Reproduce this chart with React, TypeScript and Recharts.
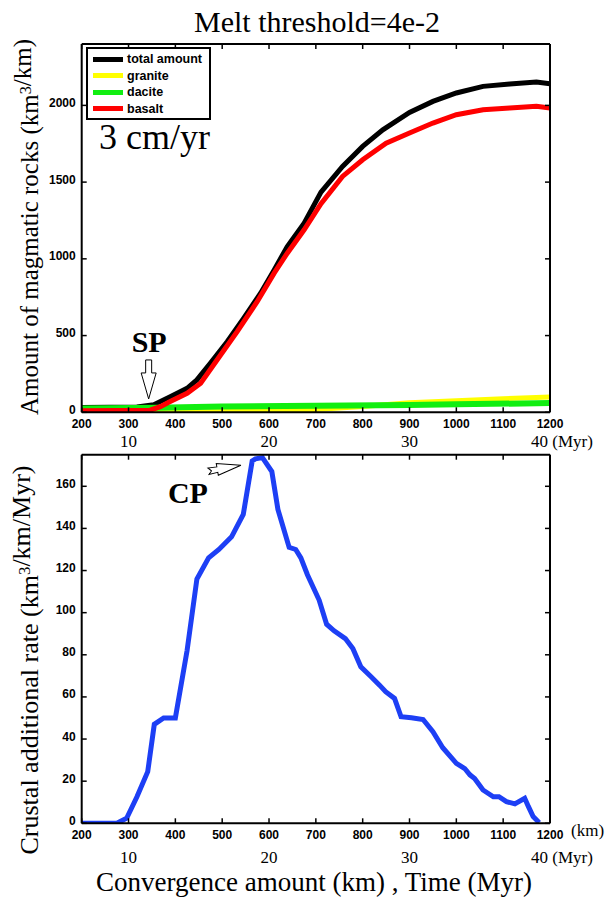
import { LineChart, Line, XAxis, YAxis, Legend, ReferenceDot } from "recharts";

const SANS = "'Liberation Sans', Arial, sans-serif";
const SERIF = "'Liberation Serif', 'Times New Roman', serif";

// convergence (km) ticks shared by both panels
const kmTicks = [200, 300, 400, 500, 600, 700, 800, 900, 1000, 1100, 1200];
const myrTicks = [10, 20, 30, 40];
const amountTicks = [0, 500, 1000, 1500, 2000];
const rateTicks = [0, 20, 40, 60, 80, 100, 120, 140, 160];

// 3 cm/yr: 30 km of convergence per Myr
const KM_PER_MYR = 30;

// upper panel: cumulative magmatic rocks (km3/km)
const seriesNames = ["total amount", "granite", "dacite", "basalt"];

const totalKm = [200, 318, 354, 389, 425, 446, 475, 511, 546, 582, 611, 639, 675, 711, 757, 800, 843, 900, 950, 1000, 1057, 1114, 1171, 1200];
const totalAmt = [32, 35, 50, 102, 156, 211, 320, 461, 613, 776, 928, 1080, 1233, 1435, 1602, 1733, 1841, 1954, 2026, 2081, 2124, 2139, 2152, 2141];

const graniteKm = [200, 450, 600, 700, 800, 900, 1000, 1100, 1200];
const graniteAmt = [2, 3, 8, 18, 38, 62, 76, 88, 100];

const daciteKm = [200, 360, 500, 700, 900, 1000, 1200];
const daciteAmt = [25, 30, 38, 42, 48, 52, 60];

const basaltKm = [200, 346, 368, 389, 425, 454, 489, 532, 575, 611, 639, 675, 711, 757, 800, 850, 900, 950, 1000, 1057, 1114, 1171, 1200];
const basaltAmt = [10, 14, 37, 70, 124, 189, 341, 526, 722, 907, 1037, 1189, 1360, 1537, 1646, 1754, 1820, 1885, 1939, 1972, 1983, 1994, 1983];

// lower panel: crustal addition rate (km3/km/Myr)
const rateKm = [200, 275, 296, 318, 341, 355, 375, 400, 425, 446, 471, 493, 520, 545, 564, 571, 586, 606, 619, 643, 657, 668, 682, 707, 723, 739, 763, 779, 796, 818, 836, 849, 868, 882, 904, 929, 950, 971, 1000, 1018, 1029, 1039, 1057, 1079, 1091, 1107, 1125, 1146, 1154, 1164, 1177];
const rateVal = [0, 0, 2.4, 12.6, 24.5, 47, 50, 50, 82, 116, 126, 130, 136, 146.6, 172, 173, 173.6, 167, 149, 131, 130, 126, 118, 106, 94.5, 91.4, 87.7, 83, 74.3, 69.6, 65.6, 62.5, 59.3, 50.6, 50.1, 49.3, 43.5, 35.9, 28.5, 26, 23, 21.3, 15.8, 12.6, 12.6, 10.3, 9.2, 11.9, 7.9, 3.2, 0.3];

const toRows = (xs: number[], ys: number[]) => xs.map((km, i) => ({ km, myr: km / KM_PER_MYR, v: ys[i] }));

const frame = { stroke: "#000", strokeWidth: 2 };

function KmTick(props: any) {
  const { x, y, payload, dy, unit } = props;
  return (
    <g>
      <line x1={x} y1={y} x2={x} y2={y - 5} stroke="#000" strokeWidth={1.5} />
      <text x={x} y={y + dy} textAnchor="middle" dominantBaseline="central" fontFamily={SANS} fontWeight="bold" fontSize={12} fill="#000">
        {payload.value}
      </text>
      {unit && payload.value === 1200 && (
        <text x={x + 21} y={y + dy - 4} dominantBaseline="central" fontFamily={SERIF} fontSize={17} fill="#000">(km)</text>
      )}
    </g>
  );
}

function MyrTick(props: any) {
  const { x, y, payload, dy } = props;
  const last = payload.value === 40;
  return (
    <text x={last ? x - 19 : x} y={y + dy} textAnchor={last ? "start" : "middle"} dominantBaseline="central" fontFamily={SERIF} fontSize={17} fill="#000">
      {last ? "40 (Myr)" : payload.value}
    </text>
  );
}

function TopTick(props: any) {
  const { x, y } = props;
  return <line x1={x} y1={y} x2={x} y2={y + 5} stroke="#000" strokeWidth={1.5} />;
}

function LeftTick(props: any) {
  const { x, y, payload } = props;
  return (
    <g>
      <line x1={x} y1={y} x2={x + 5} y2={y} stroke="#000" strokeWidth={1.5} />
      <text x={x - 6} y={y - 2.5} textAnchor="end" dominantBaseline="central" fontFamily={SANS} fontWeight="bold" fontSize={12} fill="#000">
        {payload.value}
      </text>
    </g>
  );
}

function RightTick(props: any) {
  const { x, y } = props;
  return <line x1={x} y1={y} x2={x - 5} y2={y} stroke="#000" strokeWidth={1.5} />;
}

function LegendBox({ payload }: any) {
  const items = seriesNames.map((n) => (payload || []).find((p: any) => p.value === n)).filter(Boolean);
  return (
    <div style={{ width: 116, height: 67, border: "2px solid #000", background: "#fff", padding: "2px 0 0 5px", boxSizing: "content-box" }}>
      {items.map((p: any) => (
        <div key={p.value} style={{ display: "flex", alignItems: "center", height: 16.5 }}>
          <div style={{ width: 30, height: 5, background: p.color, marginRight: 4 }} />
          <span style={{ fontFamily: SANS, fontWeight: "bold", fontSize: 12.5, color: "#000" }}>{p.value}</span>
        </div>
      ))}
    </div>
  );
}

// hollow arrow pointing down, tip at (cx, cy)
function SpMark({ cx, cy }: any) {
  const pts = [[0, 0], [-7.5, -26], [-3, -26], [-3, -39], [3, -39], [3, -26], [7.5, -26]];
  return (
    <g>
      <polygon points={pts.map(([a, b]) => `${cx + a},${cy + b}`).join(" ")} fill="#fff" stroke="#000" strokeWidth={1} />
      <text x={cx + 0.5} y={cy - 47} textAnchor="middle" fontFamily={SERIF} fontWeight="bold" fontSize={30} fill="#000">SP</text>
    </g>
  );
}

// hollow arrow pointing right (slightly upward), tip at (cx, cy)
function CpMark({ cx, cy }: any) {
  const pts = [[0, 0], [-24, -6], [-24, -2.5], [-33, -3], [-30, 0.5], [-33, 3.5], [-24, 3], [-24, 6]];
  return (
    <g>
      <polygon transform={`rotate(-10 ${cx} ${cy})`} points={pts.map(([a, b]) => `${cx + a},${cy + b}`).join(" ")} fill="#fff" stroke="#000" strokeWidth={1} />
      <text x={cx - 53} y={cy + 38} textAnchor="middle" fontFamily={SERIF} fontWeight="bold" fontSize={30} fill="#000">CP</text>
    </g>
  );
}

function Sup({ children }: any) {
  return (
    <>
      <tspan dy="-0.45em" fontSize="0.65em">{children}</tspan>
      <tspan dy="0.45em"></tspan>
    </>
  );
}

const line = { dot: false, activeDot: false, isAnimationActive: false } as const;
// invisible copies that give the time axis and the mirrored frame axes a series to scale from
const ghost = { ...line, stroke: "none", legendType: "none" as const, dataKey: "v" };

function Axes({ yId, yDomain, yTicks, kmDy, myrDy, unit }: any) {
  return [
    <XAxis key="km" xAxisId="km" dataKey="km" type="number" domain={[200, 1200]} ticks={kmTicks} interval={0} height={20} allowDataOverflow
      axisLine={frame} tickLine={false} tickSize={0} tickMargin={0} tick={(p: any) => <KmTick {...p} dy={kmDy} unit={unit} />} />,
    <XAxis key="myr" xAxisId="myr" dataKey="myr" type="number" domain={[200 / KM_PER_MYR, 1200 / KM_PER_MYR]} ticks={myrTicks} interval={0} height={30} allowDataOverflow
      axisLine={false} tickLine={false} tickSize={0} tickMargin={0} tick={(p: any) => <MyrTick {...p} dy={myrDy} />} />,
    <XAxis key="top" xAxisId="top" dataKey="km" orientation="top" type="number" domain={[200, 1200]} ticks={kmTicks} interval={0} height={1} allowDataOverflow
      axisLine={frame} tickLine={false} tickSize={0} tickMargin={0} tick={TopTick} />,
    <YAxis key="left" yAxisId={yId} type="number" domain={yDomain} ticks={yTicks} interval={0} width={81.7} allowDataOverflow
      axisLine={frame} tickLine={false} tickSize={0} tickMargin={0} tick={LeftTick} />,
    <YAxis key="right" yAxisId="right" orientation="right" type="number" domain={yDomain} ticks={yTicks} interval={0} width={1} allowDataOverflow
      axisLine={frame} tickLine={false} tickSize={0} tickMargin={0} tick={RightTick} />,
  ];
}

export default function App() {
  const totalRows = toRows(totalKm, totalAmt);
  const rateRows = toRows(rateKm, rateVal);
  return (
    <div style={{ position: "absolute", left: 0, top: 0, width: 607, height: 899, background: "#fff" }}>
      <div style={{ position: "absolute", left: 0, top: 0 }}>
        <LineChart width={607} height={470} margin={{ top: 43, right: 56, left: 0, bottom: 7.7 }}>
          {Axes({ yId: "amt", yDomain: [0, 2400], yTicks: amountTicks, kmDy: 12, myrDy: 9 })}
          <Legend content={LegendBox} layout="horizontal" verticalAlign="middle" align="center"
            wrapperStyle={{ position: "absolute", left: 86, top: 47, width: "auto", height: "auto" }} />
          <Line xAxisId="myr" yAxisId="amt" data={totalRows} {...ghost} />
          <Line xAxisId="top" yAxisId="right" data={totalRows} {...ghost} />
          <Line xAxisId="km" yAxisId="amt" name="total amount" data={totalRows} dataKey="v" stroke="#000" strokeWidth={5} {...line} />
          <Line xAxisId="km" yAxisId="amt" name="granite" data={toRows(graniteKm, graniteAmt)} dataKey="v" stroke="#ffff00" strokeWidth={5} {...line} />
          <Line xAxisId="km" yAxisId="amt" name="dacite" data={toRows(daciteKm, daciteAmt)} dataKey="v" stroke="#11ee11" strokeWidth={6} {...line} />
          <Line xAxisId="km" yAxisId="amt" name="basalt" data={toRows(basaltKm, basaltAmt)} dataKey="v" stroke="#ff0000" strokeWidth={5} {...line} />
          <ReferenceDot xAxisId="km" yAxisId="amt" x={343} y={87} shape={SpMark} />
        </LineChart>
      </div>

      <div style={{ position: "absolute", left: 0, top: 450 }}>
        <LineChart width={607} height={449} margin={{ top: 3.7, right: 56, left: 0, bottom: 25.7 }}>
          {Axes({ yId: "rate", yDomain: [0, 175], yTicks: rateTicks, kmDy: 11.5, myrDy: 14, unit: true })}
          <Line xAxisId="myr" yAxisId="rate" data={rateRows} {...ghost} />
          <Line xAxisId="top" yAxisId="right" data={rateRows} {...ghost} />
          <Line xAxisId="km" yAxisId="rate" data={rateRows} dataKey="v" stroke="#1d3ff5" strokeWidth={5} {...line} />
          <ReferenceDot xAxisId="km" yAxisId="rate" x={540} y={170} shape={CpMark} />
        </LineChart>
      </div>

      <svg width={607} height={899} style={{ position: "absolute", left: 0, top: 0, pointerEvents: "none" }}>
        <text x={317} y={32} textAnchor="middle" fontFamily={SERIF} fontSize={30} fill="#000">Melt threshold=4e-2</text>
        <text x={99} y={149} fontFamily={SERIF} fontSize={36} fill="#000">3 cm/yr</text>
        <text transform="translate(38 227) rotate(-90)" textAnchor="middle" fontFamily={SERIF} fontSize={25} fill="#000">
          Amount of magmatic rocks (km<Sup>3</Sup>/km)
        </text>
        <text transform="translate(38 660) rotate(-90)" textAnchor="middle" fontFamily={SERIF} fontSize={26} fill="#000">
          Crustal additional rate (km<Sup>3</Sup>/km/Myr)
        </text>
        <text x={314} y={891} textAnchor="middle" fontFamily={SERIF} fontSize={27} fill="#000">
          Convergence amount (km) , Time (Myr)
        </text>
      </svg>
    </div>
  );
}
